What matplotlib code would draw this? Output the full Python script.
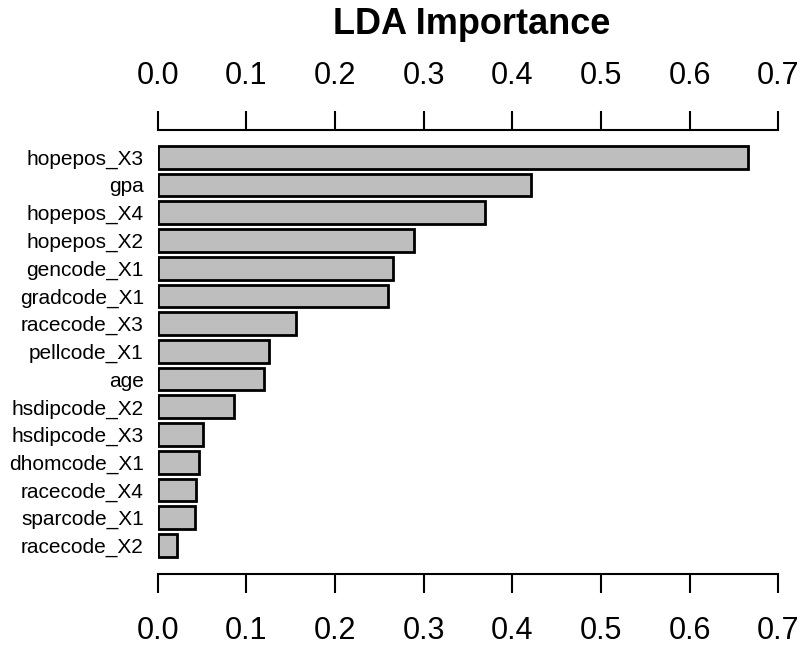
import matplotlib
matplotlib.use("Agg")
import matplotlib.pyplot as plt
import matplotlib.transforms as mtransforms

# LDA variable importance, sorted from largest to smallest
features = ["hopepos_X3", "gpa", "hopepos_X4", "hopepos_X2", "gencode_X1",
            "gradcode_X1", "racecode_X3", "pellcode_X1", "age", "hsdipcode_X2",
            "hsdipcode_X3", "dhomcode_X1", "racecode_X4", "sparcode_X1", "racecode_X2"]
importance = [0.666, 0.421, 0.369, 0.289, 0.265,
              0.260, 0.156, 0.126, 0.120, 0.086,
              0.051, 0.047, 0.043, 0.042, 0.022]
x_ticks = [0.0, 0.1, 0.2, 0.3, 0.4, 0.5, 0.6, 0.7]

plt.rcParams["font.family"] = ["Liberation Sans", "DejaVu Sans"]

W, H = 804, 647
fig = plt.figure(figsize=(W / 100, H / 100), dpi=100)

left_px, right_px = 157.7, 778.4
top_px, bottom_px = 129.5, 574.0
ax = fig.add_axes([left_px / W, 1 - bottom_px / H,
                   (right_px - left_px) / W, (bottom_px - top_px) / H])

pos = list(range(len(features)))
ax.barh(pos, importance, height=0.82, color="#bebebe",
        edgecolor="black", linewidth=2.0)

ax.set_xlim(0, 0.7)
ax.set_ylim(15.03, -1.0)

ax.set_yticks(pos)
ax.set_yticklabels(features, fontsize=15)
ax.tick_params(axis="y", length=0, pad=10)

ax.set_xticks(x_ticks)
ax.set_xticklabels([f"{t:.1f}" for t in x_ticks])
ax.tick_params(axis="x", which="both", direction="out", length=13.5, width=1.5,
               labelsize=22, pad=14, top=True, labeltop=True,
               bottom=True, labelbottom=True)

# nudge only the bottom tick labels a little further from the axis
shift = mtransforms.ScaledTranslation(0, -4 / 100, fig.dpi_scale_trans)
for tick in ax.xaxis.get_major_ticks():
    tick.label1.set_transform(tick.label1.get_transform() + shift)

for side in ("left", "right"):
    ax.spines[side].set_visible(False)
for side in ("top", "bottom"):
    ax.spines[side].set_linewidth(1.5)

fig.text(472 / W, 1 - 24 / H, "LDA Importance", ha="center", va="center",
         fontsize=26, fontweight="bold")

fig.savefig("out.png", dpi=100)
